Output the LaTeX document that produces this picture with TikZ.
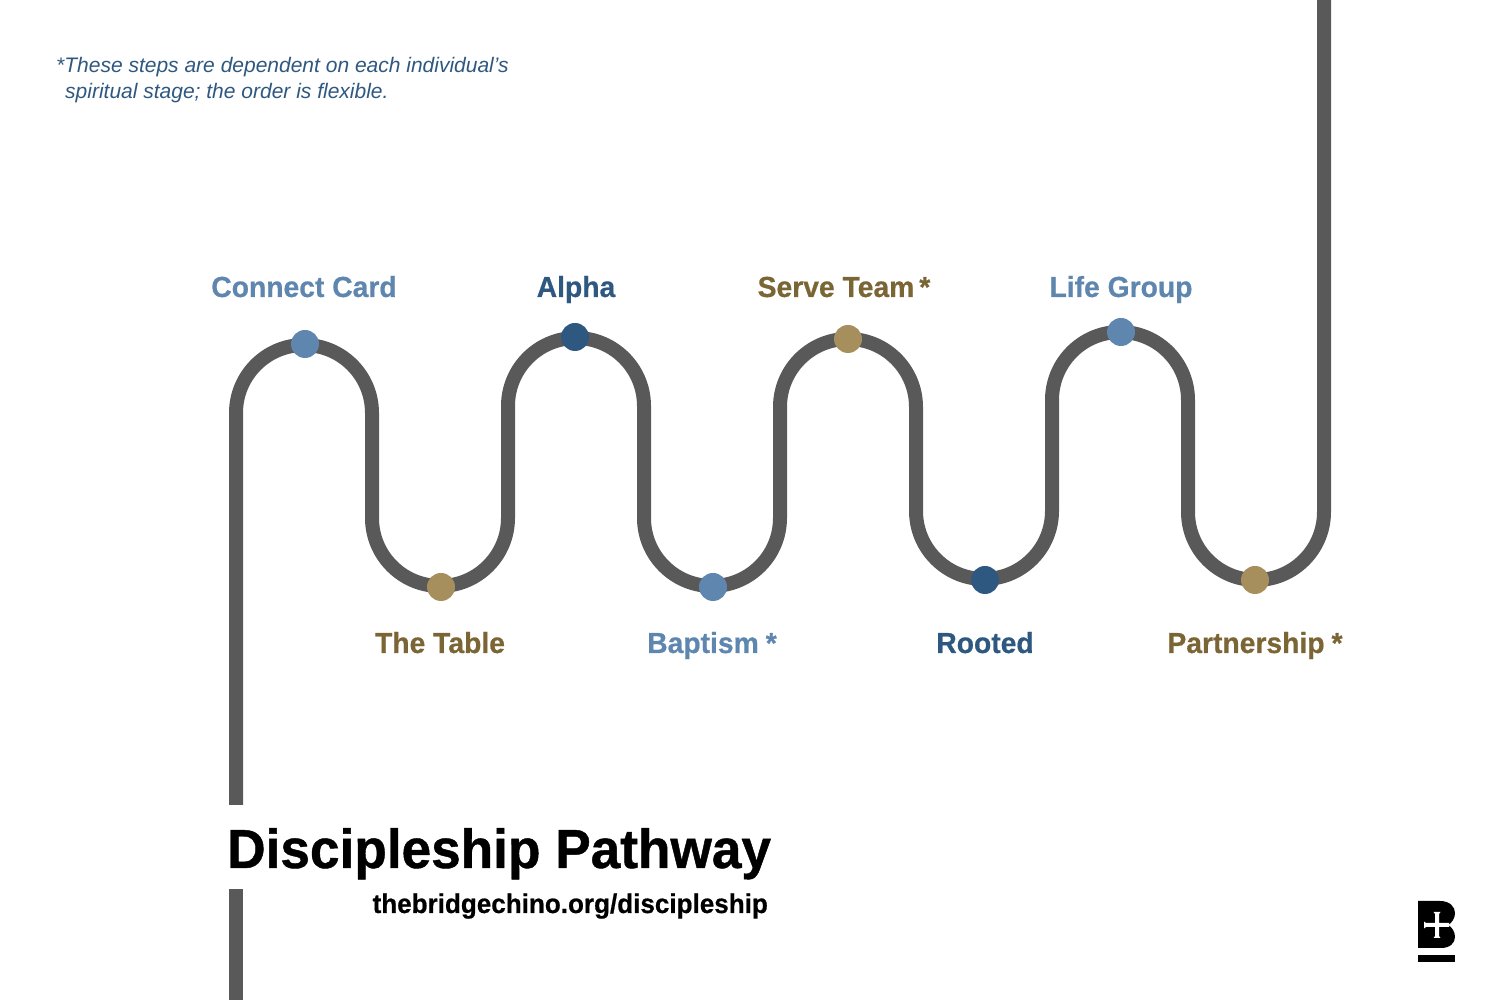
\documentclass[tikz,border=0pt]{standalone}
\usepackage{fontspec}
\setmainfont{Liberation Sans}
\newfontfamily\condbold[FakeStretch=0.975,FakeBold=0.6]{Liberation Sans Bold}
\newfontfamily\urlface[FakeStretch=0.965,FakeBold=0.6]{Liberation Sans Bold}
\newfontfamily\titleface[FakeStretch=0.967,FakeBold=0.8]{Liberation Sans Bold}
\newfontfamily\noteface{Liberation Sans Italic}
\definecolor{pipecol}{HTML}{595959}
\definecolor{lightblue}{HTML}{5E86AE}
\definecolor{darkblue}{HTML}{2F5880}
\definecolor{tandot}{HTML}{A68F5C}
\definecolor{tantext}{HTML}{7B6535}
\tikzset{
  pipe/.style={draw=pipecol,line width=14pt},
  stopdot/.style={circle,inner sep=0pt,minimum size=28pt,fill=#1},
  steplabel/.style={anchor=base,font=\condbold\fontsize{29}{29}\selectfont,text=#1,inner sep=0pt},
}
\newcommand{\sgodown}[2]{\draw[pipe] (#1) arc[start angle=90,end angle=0,radius=68] -- ++(0,#2) arc[start angle=180,end angle=270,radius=68];}
\newcommand{\sgoup}[2]{\draw[pipe] (#1) arc[start angle=270,end angle=360,radius=68] -- ++(0,#2) arc[start angle=180,end angle=90,radius=68];}
\begin{document}
\begin{tikzpicture}[x=1pt,y=1pt]
\useasboundingbox (0,0) rectangle (1500,1000);
\coordinate (bot) at (236,0);
\coordinate (gapl) at (236,195);
\coordinate (gaph) at (236,111);
\coordinate (top) at (1324,1000);
\coordinate (a1) at (304,655);
\coordinate (a2) at (440,414);
\coordinate (a3) at (576,662);
\coordinate (a4) at (712,414);
\coordinate (a5) at (848,661);
\coordinate (a6) at (984,421);
\coordinate (a7) at (1120,668);
\coordinate (a8) at (1256,420);
\draw[pipe] (bot) -- (gaph);
\draw[pipe] (gapl) -- (236,587) arc[start angle=180,end angle=90,radius=68];
\sgodown{a1}{-105}
\sgoup{a2}{112}
\sgodown{a3}{-112}
\sgoup{a4}{111}
\sgodown{a5}{-104}
\sgoup{a6}{111}
\sgodown{a7}{-112}
\draw[pipe] (a8) arc[start angle=270,end angle=360,radius=68] -- (top);
\node[stopdot=lightblue] (d1) at (305,656) {};
\node[stopdot=tandot] (d2) at (441,413) {};
\node[stopdot=darkblue] (d3) at (575,663) {};
\node[stopdot=lightblue] (d4) at (713,413) {};
\node[stopdot=tandot] (d5) at (848,661) {};
\node[stopdot=darkblue] (d6) at (985,420) {};
\node[stopdot=lightblue] (d7) at (1121,668) {};
\node[stopdot=tandot] (d8) at (1255,420) {};
\node[steplabel=lightblue] (lb1) at (304,703) {Connect Card};
\node[steplabel=tantext] (lb2) at (440,347) {The Table};
\node[steplabel=darkblue] (lb3) at (576,703) {Alpha};
\node[steplabel=lightblue] (lb4) at (712,347) {Baptism\kern7pt*};
\node[steplabel=tantext] (lb5) at (844,703) {Serve Team\kern5pt*};
\node[steplabel=darkblue] (lb6) at (985,347) {Rooted};
\node[steplabel=lightblue] (lb7) at (1121,703) {Life Group};
\node[steplabel=tantext] (lb8) at (1255,347) {Partnership\kern7pt*};
\node[anchor=base west,inner sep=0pt,font=\titleface\fontsize{55}{55}\selectfont] (title) at (227,132) {Discipleship Pathway};
\node[anchor=base east,inner sep=0pt,font=\urlface\fontsize{27}{27}\selectfont] (url) at (768,87) {thebridgechino.org/discipleship};
\node[anchor=base west,inner sep=0pt,align=left,text=darkblue,font=\noteface\fontsize{21}{26}\selectfont] (note) at (56,901) {*These steps are dependent on each individual’s\\\hspace*{9pt}spiritual stage; the order is flexible.};
% logo
\fill[black] (1418,99) -- (1440,99) .. controls (1450,99) and (1455,93) .. (1455,87) .. controls (1455,82) and (1452,77) .. (1448,75) .. controls (1452,73) and (1455,68) .. (1455,63) .. controls (1455,57) and (1450,52) .. (1441,52) -- (1418,52) -- cycle;
\fill[black] (1418,38) rectangle (1455,45);
\fill[white] (1433.5,88) -- (1440.5,88) -- (1439,86) -- (1439,77) -- (1449,77) -- (1449,73) -- (1439,73) -- (1439,64) -- (1440.5,62) -- (1433.5,62) -- (1435,64) -- (1435,73) -- (1426,73) -- (1424,71.5) -- (1424,78.5) -- (1426,77) -- (1435,77) -- (1435,86) -- cycle;
\end{tikzpicture}
\end{document}
